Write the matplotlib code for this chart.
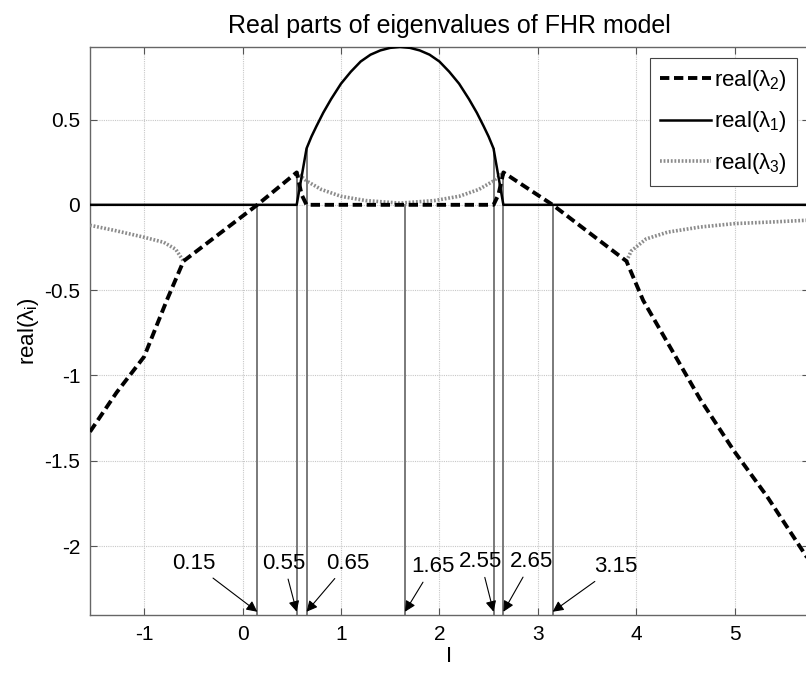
import numpy as np
import matplotlib
matplotlib.use('Agg')
import matplotlib.pyplot as plt

plt.rcParams['font.family'] = ['Liberation Sans', 'DejaVu Sans']
plt.rcParams['mathtext.fontset'] = 'custom'
plt.rcParams['mathtext.rm'] = 'Liberation Sans'
plt.rcParams['mathtext.it'] = 'Liberation Sans'

# real(lambda_2): dashed branch
lam2_x = [-1.55, -1.28, -1.0, -0.77, -0.6, 0.15, 0.55, 0.6, 0.65,
          2.55, 2.6, 2.65, 3.15, 3.9, 4.07, 4.32, 4.65, 4.99, 5.33, 5.75]
lam2_y = [-1.33, -1.10, -0.89, -0.56, -0.33, 0.0, 0.19, 0.06, 0.0,
          0.0, 0.06, 0.19, 0.0, -0.33, -0.56, -0.81, -1.14, -1.44, -1.71, -2.08]

# real(lambda_1): solid branch, zero outside the hump
lam1_x = [-1.55, 0.55, 0.65, 0.7, 0.75, 0.82, 0.9, 1.0, 1.1, 1.2, 1.3,
          1.4, 1.5, 1.6, 1.7, 1.8, 1.9, 2.0, 2.1, 2.2, 2.3, 2.38,
          2.45, 2.5, 2.55, 2.65, 5.75]
lam1_y = [0.0, 0.0, 0.33, 0.40, 0.46, 0.54, 0.62, 0.71, 0.78, 0.84, 0.88,
          0.905, 0.92, 0.925, 0.92, 0.905, 0.88, 0.84, 0.78, 0.71, 0.62, 0.54,
          0.46, 0.40, 0.33, 0.0, 0.0]

# real(lambda_3): dotted branch (hidden where it coincides with lambda_2)
lam3_left_x = [-1.55, -1.3, -1.0, -0.8, -0.68, -0.6]
lam3_left_y = [-0.12, -0.15, -0.19, -0.22, -0.26, -0.33]
lam3_mid_x = [0.55, 0.65, 0.8, 1.0, 1.25, 1.6, 1.95, 2.2, 2.4, 2.55, 2.65]
lam3_mid_y = [0.19, 0.14, 0.09, 0.05, 0.025, 0.01, 0.025, 0.05, 0.09, 0.14, 0.19]
lam3_right_x = [3.9, 3.95, 4.1, 4.32, 4.65, 5.0, 5.4, 5.75]
lam3_right_y = [-0.33, -0.27, -0.20, -0.16, -0.13, -0.11, -0.10, -0.09]

# marked bifurcation points
mark_x = [0.15, 0.55, 0.65, 1.65, 2.55, 2.65, 3.15]
mark_top = [0.0, 0.19, 0.33, 0.0, 0.33, 0.19, 0.0]
mark_text_x = [-0.5, 0.42, 1.07, 1.93, 2.42, 2.94, 3.79]
mark_text_y = [-2.10, -2.10, -2.10, -2.12, -2.09, -2.09, -2.12]

XMIN, XMAX = -1.55, 5.75
YMIN, YMAX = -2.404, 0.925

fig = plt.figure(figsize=(8.06, 6.73), dpi=100)
ax = fig.add_axes([90 / 806, 58 / 673, 718.5 / 806, 568 / 673])

ax.grid(True, color='#c8c8c8', linestyle=(0, (1, 1)), linewidth=0.8)
ax.set_axisbelow(True)

for xm, yt in zip(mark_x, mark_top):
    ax.plot([xm, xm], [YMIN, yt], color='#7a7a7a', linewidth=1.4, zorder=2)

lam3_x = lam3_left_x + [np.nan] + lam3_mid_x + [np.nan] + lam3_right_x
lam3_y = lam3_left_y + [np.nan] + lam3_mid_y + [np.nan] + lam3_right_y

h2, = ax.plot(lam2_x, lam2_y, color='black', linewidth=2.8,
              linestyle=(0, (2.4, 1.2)), zorder=4, label=r'real($\lambda_2$)')
h1, = ax.plot(lam1_x, lam1_y, color='black', linewidth=1.8, zorder=5,
              label=r'real($\lambda_1$)')
h3, = ax.plot(lam3_x, lam3_y, color='#8c8c8c', linewidth=2.6,
              linestyle=(0, (0.5, 0.5)), zorder=3, label=r'real($\lambda_3$)')

for xm, tx, ty in zip(mark_x, mark_text_x, mark_text_y):
    ax.annotate(f'{xm:.2f}', xy=(xm, -2.385), xytext=(tx, ty),
                fontsize=16, ha='center', va='center',
                arrowprops=dict(arrowstyle='-|>', color='black', lw=0.8,
                                mutation_scale=16, shrinkA=2, shrinkB=0))

ax.set_xlim(XMIN, XMAX)
ax.set_ylim(YMIN, YMAX)
ax.set_xticks([-1, 0, 1, 2, 3, 4, 5])
ax.set_yticks([-2, -1.5, -1, -0.5, 0, 0.5])
ax.set_yticklabels(['-2', '-1.5', '-1', '-0.5', '0', '0.5'])
ax.set_xticklabels(['-1', '0', '1', '2', '3', '4', '5'])
ax.tick_params(direction='in', top=True, right=True, labelsize=15,
               length=5, width=0.8, color='#555555', pad=7)
for sp in ax.spines.values():
    sp.set_color('#666666')
    sp.set_linewidth(1.0)

ax.set_title('Real parts of eigenvalues of FHR model', fontsize=18, pad=10)
ax.set_xlabel('I', fontsize=16, labelpad=2)
ax.set_ylabel(r'real($\lambda_i$)', fontsize=16, labelpad=2)

leg = ax.legend(handles=[h2, h1, h3], loc='upper right', fontsize=16,
                handlelength=2.3, labelspacing=0.75, borderpad=0.45,
                handletextpad=0.15, borderaxespad=0, fancybox=False,
                framealpha=1, bbox_to_anchor=(0.984, 0.981))
leg.get_frame().set_edgecolor('#444444')
leg.get_frame().set_linewidth(0.8)

fig.savefig('out.png', dpi=100)
